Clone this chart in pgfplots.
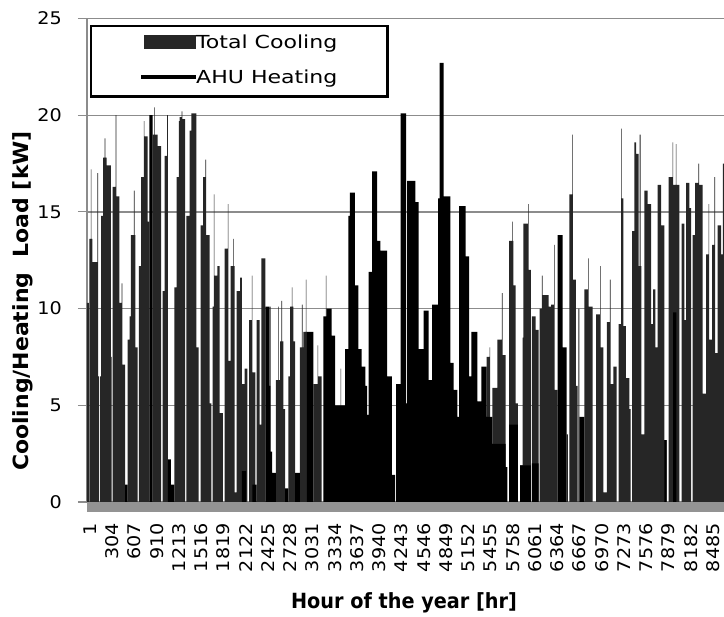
\documentclass[border=0pt]{standalone}
\usepackage{pgfplots}
\usepackage{pgfplotstable}
\pgfplotsset{compat=1.18}
\usepackage{fontspec}
\setmainfont{DejaVu Sans}[FakeStretch=1.1]
\newfontfamily\legfont{DejaVu Sans}[FakeStretch=1.23]
\newfontfamily\labfont{DejaVu Sans}[FakeStretch=0.92]
\newfontfamily\ylabfont{DejaVu Sans}[FakeStretch=1.05]

\definecolor{cool}{HTML}{262626}
\definecolor{gridc}{HTML}{8C8C8C}
\definecolor{bandc}{HTML}{939393}

% hour, total cooling [kW], AHU heating [kW] (step values, held until next row)
\pgfplotstableread{
h C H
-40 10.3 0
-15 0 0
-7 13.6 0
12 17.2 0
20 13.6 0
32 12.4 0
102 17.0 0
110 6.5 0
124 0 0
138 6.5 0
151 14.8 0
178 17.8 0
201 18.8 0
209 17.8 0
228 17.4 0
284 7.5 0
296 0 0
310 16.3 0
351 20.0 0
359 15.8 0
400 10.3 0
433 11.3 0
441 7.1 0
478 0 0.9
512 8.4 0
539 9.6 0
559 13.8 0
600 16.1 0
608 13.8 0
618 8.0 0
648 0 0
668 12.2 0
696 16.8 0
734 19.7 0
742 18.9 0
787 14.5 0
809 0 20.0
855 19.0 0
873 20.4 0
881 19.0 0
923 18.4 0
968 0 0
991 10.9 0
1018 17.9 0
1052 20.0 0
1061 0 2.2
1104 0 0.9
1149 11.1 0
1182 16.8 0
1213 19.7 0
1221 19.9 0
1250 20.2 0
1258 19.8 0
1295 0 0
1313 14.8 0
1359 19.2 0
1381 20.1 0
1449 8.0 0
1481 0 0
1509 14.3 0
1540 16.8 0
1573 17.7 0
1581 13.8 0
1631 5.1 0
1653 0 0
1672 10.1 0
1687 15.9 0
1695 11.7 0
1735 12.2 0
1767 4.6 0
1812 0 0
1836 13.1 0
1878 15.4 0
1886 7.3 0
1917 12.2 0
1949 13.6 0
1957 12.2 0
1972 0.5 0
1999 10.9 0
2044 11.6 0
2071 6.1 1.6
2108 6.9 1.6
2126 6.9 0
2143 0 0
2167 9.4 0
2205 11.7 0
2213 6.7 0.9
2252 0 0.9
2271 9.4 0
2312 4.0 0
2334 12.6 0
2389 0 10.1
2449 0 6.0
2458 10.1 2.6
2466 0 2.6
2480 0 1.5
2534 6.3 0
2563 10.1 0
2571 6.3 0
2589 8.3 0
2609 10.4 0
2617 8.3 0
2634 4.8 0
2657 0 0.7
2702 6.5 0
2725 10.1 0
2750 11.1 0
2758 10.1 0
2770 8.3 0
2793 0 1.5
2861 8.0 0
2888 10.2 0
2897 8.0 0
2906 8.8 0
2940 11.5 0
2948 8.8 0
2953 0 8.8
3042 6.1 0
3100 8.1 0
3108 6.5 0
3157 0 0
3179 0 9.6
3213 11.7 9.6
3221 0 10.0
3293 0 8.6
3338 0 5.0
3413 6.9 5.0
3421 0 5.0
3474 0 7.9
3519 0 14.8
3542 0 16.0
3610 0 11.2
3655 0 7.9
3702 0 7.0
3751 0 6.0
3774 0 4.5
3797 0 11.9
3842 0 17.1
3910 0 13.5
3955 0 13.0
4046 0 6.5
4114 0 1.4
4155 0 0
4170 0 6.1
4230 0 20.1
4305 0 5.1
4319 0 16.6
4432 0 15.5
4478 0 7.9
4546 0 9.9
4614 0 6.3
4659 0 10.2
4741 0 15.7
4761 0 22.7
4816 0 15.8
4908 0 7.2
4955 0 5.8
5004 0 4.4
5027 0 15.3
5118 0 12.7
5163 0 6.5
5194 0 8.8
5276 0 5.2
5330 0 7.0
5404 7.5 4.4
5442 8.0 4.4
5449 0 4.4
5480 5.9 3.0
5548 8.4 3.0
5612 10.8 3.0
5621 7.6 3.0
5663 0 1.8
5687 0 0
5708 13.5 4.0
5749 14.5 4.0
5757 13.5 4.0
5766 11.2 4.0
5799 5.1 4.0
5830 0 0
5858 1.9 1.9
5892 8.5 1.9
5905 14.4 1.9
5967 15.4 1.9
5975 12.0 1.9
6005 0 0
6018 9.6 2.0
6071 8.9 2.0
6110 0 0
6123 10.0 0
6157 11.7 0
6165 10.7 0
6248 10.1 0
6280 10.2 0
6321 13.3 0
6329 5.8 0
6371 0 13.8
6439 0 8.0
6494 3.5 0
6508 0 0
6529 15.9 0
6571 19.0 0
6579 11.5 0
6620 6.0 0
6641 0 0
6654 10.0 0
6665 0 4.4
6733 11.0 0
6784 12.6 0
6792 10.1 0
6848 0 0
6893 9.7 0
6947 12.2 0
6955 8.0 0
6992 0.5 0
7039 9.3 0
7083 11.5 0
7092 6.1 0
7128 7.0 0
7175 0 0
7202 9.2 0
7233 19.3 0
7241 15.7 0
7265 9.1 0
7301 6.4 0
7346 4.8 0
7363 0 0
7383 14.0 0
7414 18.6 0
7438 18.0 0
7474 12.2 0
7487 19.0 0
7500 12.2 0
7510 3.5 0
7551 16.1 0
7597 15.4 0
7642 9.2 0
7669 11.0 0
7700 8.0 0
7733 16.4 0
7778 14.3 0
7823 3.2 3.2
7856 0 0
7883 16.8 0
7935 18.6 0
7943 16.4 9.8
7980 18.5 9.8
7988 16.4 0
8027 0 0
8060 14.4 0
8095 9.4 0
8119 16.5 0
8163 15.2 0
8187 0 0
8210 13.8 0
8241 16.5 0
8287 17.5 0
8296 16.4 0
8346 5.6 0
8391 12.8 0
8425 15.4 0
8433 8.4 0
8473 13.3 0
8505 16.8 0
8514 7.7 0
8550 14.3 0
8595 12.8 0
8622 17.5 0
8640 17.5 0
}\loads

\begin{document}
\begin{tikzpicture}
\useasboundingbox (-87bp,-115bp) rectangle (637bp,502bp);
\begin{axis}[
    name=ax,
    scale only axis,
    width=637bp, height=483.5bp,
    xmin=-40, xmax=8636,
    ymin=0, ymax=25,
    axis x line*=bottom, axis y line*=left,
    x axis line style={draw=none},
    y axis line style={draw=gridc, line width=1.2bp},
    xtick={1,304,...,8485},
    ytick={0,5,...,25},
    ymajorgrids,
    grid style={draw=gridc, line width=1.3bp},
    tick align=outside,
    major tick length=9bp,
    xtick style={draw=none},
    ytick style={draw=gridc, line width=1.2bp},
    /pgf/number format/assume math mode=true,
    /pgf/number format/1000 sep={},
    tick label style={font=\fontsize{17.5}{20}\selectfont, inner sep=0pt},
    x tick label style={rotate=90, anchor=east},
    xticklabel shift=12bp,
    yticklabel shift=16bp,
    xlabel={\labfont\bfseries Hour of the year [hr]},
    ylabel={\ylabfont\bfseries Cooling/Heating\ \ Load [kW]},
    label style={font=\fontsize{21}{24}\selectfont},
    xlabel style={at={(axis description cs:0.4976,-0.2089)}, anchor=center},
    ylabel style={at={(axis description cs:-0.1005,0.4157)}, anchor=center},
    legend style={at={(axis description cs:0.0047,0.9866)}, anchor=north west,
        draw=black, line width=2.4bp, fill=white,
        font=\legfont\fontsize{18}{20}\selectfont,
        inner xsep=50bp, inner ysep=9bp, row sep=18bp,
        nodes={inner sep=0pt, text height=13bp, text depth=4bp},
        /tikz/every even column/.append style={column sep=3bp}},
    legend cell align=left,
]
\addplot[const plot, fill=cool, draw=none,
    legend image code/.code={\fill[cool] (0bp,-5bp) rectangle (52bp,9bp);}]
    table[x=h, y=C] {\loads} \closedcycle;
\addlegendentry{Total Cooling}
\addplot[const plot, fill=black, draw=none,
    legend image code/.code={\fill[black] (-3bp,-0.2bp) rectangle (52bp,3.8bp);}]
    table[x=h, y=H] {\loads} \closedcycle;
\addlegendentry{AHU Heating}
\end{axis}
\fill[bandc] (ax.south west) rectangle ([yshift=-10bp]ax.south east);
\end{tikzpicture}
\end{document}
